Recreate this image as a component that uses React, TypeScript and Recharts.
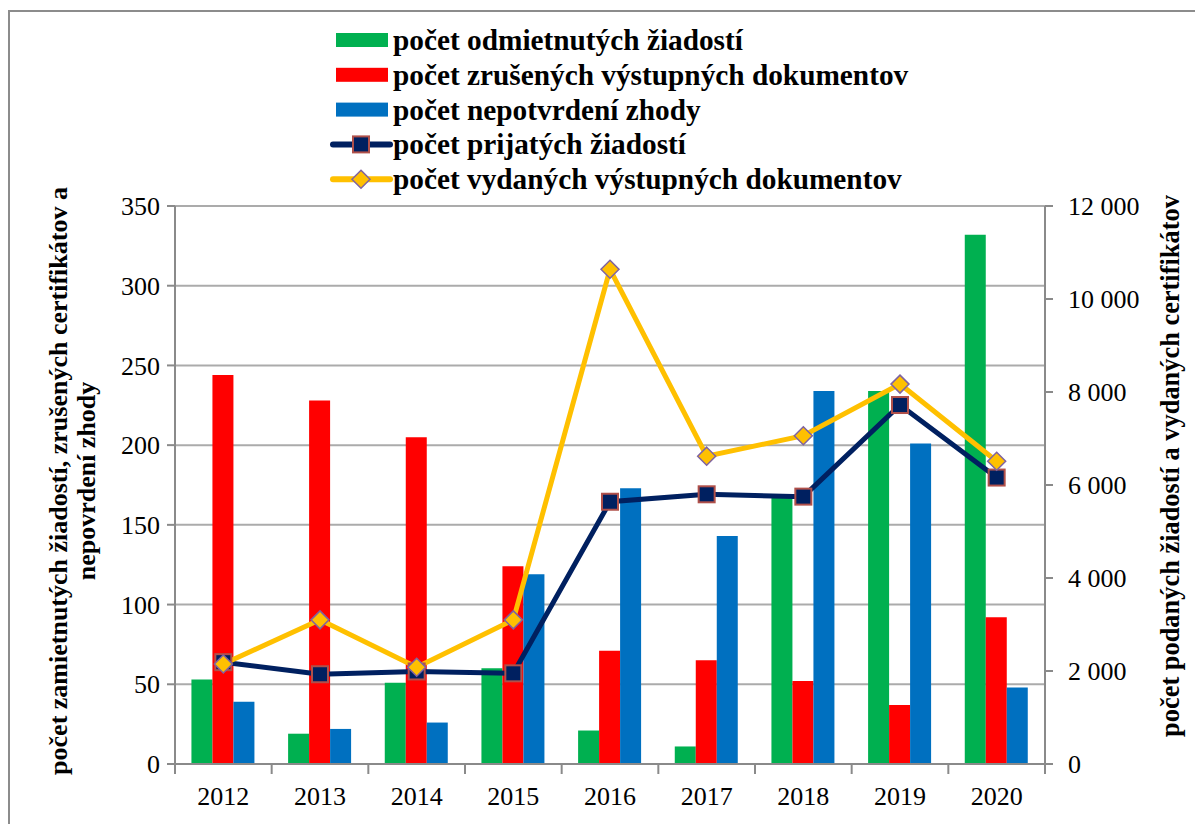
import React from 'react';
import { ComposedChart, Bar, Line, XAxis, YAxis, CartesianGrid, Legend } from 'recharts';

const years = ['2012', '2013', '2014', '2015', '2016', '2017', '2018', '2019', '2020'];
const odmietnute = [53, 19, 51, 60, 21, 11, 167, 234, 332];
const zrusene = [244, 228, 205, 124, 71, 65, 52, 37, 92];
const nepotvrdenie = [39, 22, 26, 119, 173, 143, 234, 201, 48];
const prijate = [2190, 1930, 1990, 1950, 5640, 5800, 5750, 7720, 6160];
const vydane = [2150, 3100, 2080, 3100, 10640, 6620, 7060, 8170, 6510];
const leftTicks = [0, 50, 100, 150, 200, 250, 300, 350];
const rightTicks = [0, 2000, 4000, 6000, 8000, 10000, 12000];
const seriesNames = [
  'počet odmietnutých žiadostí',
  'počet zrušených výstupných dokumentov',
  'počet nepotvrdení zhody',
  'počet prijatých žiadostí',
  'počet vydaných výstupných dokumentov',
];
const leftTitle = ['počet zamietnutých žiadostí, zrušených certifikátov a', 'nepovrdení zhody'];
const rightTitle = 'počet podaných žiadostí a vydaných certifikátov';

const data = years.map((y, i) => ({
  year: y,
  odm: odmietnute[i],
  zru: zrusene[i],
  nep: nepotvrdenie[i],
  pri: prijate[i],
  vyd: vydane[i],
}));

const FONT = "'Times New Roman', 'Liberation Serif', 'DejaVu Serif', serif";
const GREEN = '#00b050';
const RED = '#ff0000';
const BLUE = '#0070c0';
const NAVY = '#002060';
const NAVY_EDGE = '#b0504a';
const GOLD = '#ffc000';
const GOLD_EDGE = '#7f63a1';
const AXIS = '#8a8a8a';
const GRID = '#ababab';

const PLOT_LEFT = 175;
const PLOT_RIGHT = 1045;
const BAND = (PLOT_RIGHT - PLOT_LEFT) / years.length;

const fmtThousands = (v: number) => String(v).replace(/\B(?=(\d{3})+(?!\d))/g, '\u00a0');

const XTick = (props: any) => {
  const { x, y, payload, index } = props;
  const half = BAND / 2;
  return (
    <g>
      <line x1={x - half} y1={y} x2={x - half} y2={y + 10} stroke={AXIS} strokeWidth={2} />
      {index === years.length - 1 && (
        <line x1={x + half} y1={y} x2={x + half} y2={y + 10} stroke={AXIS} strokeWidth={2} />
      )}
      <text x={x} y={y + 41} textAnchor="middle" style={{ fontFamily: FONT }} fontSize={26} fill="#000">
        {payload.value}
      </text>
    </g>
  );
};

const YTick = (props: any) => {
  const { x, y, payload, textAnchor, fmt } = props;
  return (
    <text
      x={x}
      y={y}
      dy="0.35em"
      textAnchor={textAnchor}
      style={{ fontFamily: FONT }}
      fontSize={26}
      fill="#000"
    >
      {fmt ? fmt(payload.value) : payload.value}
    </text>
  );
};

const SquareDot = (props: any) => {
  const { cx, cy, index } = props;
  if (cx == null || cy == null) return <g key={`sq-${index}`} />;
  const s = 16;
  return (
    <rect
      key={`sq-${index}`}
      x={cx - s / 2}
      y={cy - s / 2}
      width={s}
      height={s}
      fill={NAVY}
      stroke={NAVY_EDGE}
      strokeWidth={2}
    />
  );
};

const DiamondDot = (props: any) => {
  const { cx, cy, index } = props;
  if (cx == null || cy == null) return <g key={`dm-${index}`} />;
  const r = 9;
  return (
    <polygon
      key={`dm-${index}`}
      points={`${cx},${cy - r} ${cx + r},${cy} ${cx},${cy + r} ${cx - r},${cy}`}
      fill={GOLD}
      stroke={GOLD_EDGE}
      strokeWidth={1.5}
    />
  );
};

const LeftTitle = () => (
  <g>
    {leftTitle.map((t, i) => {
      const x = 58 + i * 28;
      const y = 481;
      return (
        <text
          key={i}
          x={x}
          y={y}
          transform={`rotate(-90 ${x} ${y})`}
          textAnchor="middle"
          dominantBaseline="central"
          style={{ fontFamily: FONT }}
          fontWeight="bold"
          fontSize={26}
          fill="#000"
        >
          {t}
        </text>
      );
    })}
  </g>
);

const RightTitle = () => {
  const x = 1170;
  const y = 466;
  return (
    <text
      x={x}
      y={y}
      transform={`rotate(-90 ${x} ${y})`}
      textAnchor="middle"
      dominantBaseline="central"
      style={{ fontFamily: FONT }}
      fontWeight="bold"
      fontSize={26.4}
      fill="#000"
    >
      {rightTitle}
    </text>
  );
};

const swatchColors = [GREEN, RED, BLUE];

const renderLegend = () => (
  <svg width={640} height={200} style={{ display: 'block', overflow: 'visible' }}>
    {seriesNames.map((name, i) => {
      const cy = 18 + i * 34.8;
      let swatch: React.ReactNode;
      if (i < 3) {
        swatch = <rect x={11} y={cy - 7} width={52} height={14} fill={swatchColors[i]} />;
      } else if (i === 3) {
        swatch = (
          <g>
            <line x1={8} y1={cy} x2={65} y2={cy} stroke={NAVY} strokeWidth={6} strokeLinecap="round" />
            <rect x={36 - 8} y={cy - 8} width={16} height={16} fill={NAVY} stroke={NAVY_EDGE} strokeWidth={2} />
          </g>
        );
      } else {
        swatch = (
          <g>
            <line x1={8} y1={cy} x2={65} y2={cy} stroke={GOLD} strokeWidth={6} strokeLinecap="round" />
            <polygon
              points={`36,${cy - 9} 45,${cy} 36,${cy + 9} 27,${cy}`}
              fill={GOLD}
              stroke={GOLD_EDGE}
              strokeWidth={1.5}
            />
          </g>
        );
      }
      return (
        <g key={name}>
          {swatch}
          <text
            x={68}
            y={cy}
            dominantBaseline="central"
            style={{ fontFamily: FONT }}
            fontWeight="bold"
            fontSize={29.3}
            fill="#000"
          >
            {name}
          </text>
        </g>
      );
    })}
  </svg>
);

export default function App() {
  return (
    <div
      style={{
        position: 'fixed',
        left: 0,
        top: 0,
        width: 1195,
        height: 824,
        overflow: 'hidden',
        background: '#fff',
        fontFamily: FONT,
      }}
    >
      <div
        style={{
          position: 'absolute',
          left: 8,
          top: 10,
          width: 1300,
          height: 900,
          border: '2px solid #8c8c8c',
          boxSizing: 'border-box',
        }}
      />
      <div style={{ position: 'absolute', left: 0, top: 0 }}>
        <ComposedChart
          width={1195}
          height={824}
          data={data}
          margin={{ top: 206, right: 50, bottom: 10, left: 95 }}
          barCategoryGap="17%"
          barGap={0}
          style={{ fontFamily: FONT }}
        >
          <CartesianGrid yAxisId="left" vertical={false} stroke={GRID} strokeWidth={2} />
          <XAxis
            dataKey="year"
            height={50}
            axisLine={{ stroke: AXIS, strokeWidth: 2 }}
            tickLine={false}
            tickSize={0}
            tickMargin={0}
            interval={0}
            tick={<XTick />}
          />
          <YAxis
            yAxisId="left"
            orientation="left"
            width={80}
            domain={[0, 350]}
            ticks={leftTicks}
            interval={0}
            axisLine={{ stroke: AXIS, strokeWidth: 2 }}
            tickLine={{ stroke: AXIS, strokeWidth: 2 }}
            tickSize={8}
            tickMargin={7}
            tick={<YTick />}
            label={<LeftTitle />}
          />
          <YAxis
            yAxisId="right"
            orientation="right"
            width={100}
            domain={[0, 12000]}
            ticks={rightTicks}
            interval={0}
            axisLine={{ stroke: AXIS, strokeWidth: 2 }}
            tickLine={{ stroke: AXIS, strokeWidth: 2 }}
            tickSize={8}
            tickMargin={15}
            tick={<YTick fmt={fmtThousands} />}
            label={<RightTitle />}
          />
          <Legend
            layout="horizontal"
            verticalAlign="middle"
            align="center"
            content={renderLegend}
            wrapperStyle={{ position: 'absolute', left: 325, top: 22, width: 640, height: 200 }}
          />
          <Bar yAxisId="left" dataKey="odm" name={seriesNames[0]} fill={GREEN} isAnimationActive={false} />
          <Bar yAxisId="left" dataKey="zru" name={seriesNames[1]} fill={RED} isAnimationActive={false} />
          <Bar yAxisId="left" dataKey="nep" name={seriesNames[2]} fill={BLUE} isAnimationActive={false} />
          <Line
            yAxisId="right"
            type="linear"
            dataKey="pri"
            name={seriesNames[3]}
            stroke={NAVY}
            strokeWidth={5}
            dot={SquareDot}
            activeDot={false}
            isAnimationActive={false}
          />
          <Line
            yAxisId="right"
            type="linear"
            dataKey="vyd"
            name={seriesNames[4]}
            stroke={GOLD}
            strokeWidth={5}
            dot={DiamondDot}
            activeDot={false}
            isAnimationActive={false}
          />
        </ComposedChart>
      </div>
    </div>
  );
}
